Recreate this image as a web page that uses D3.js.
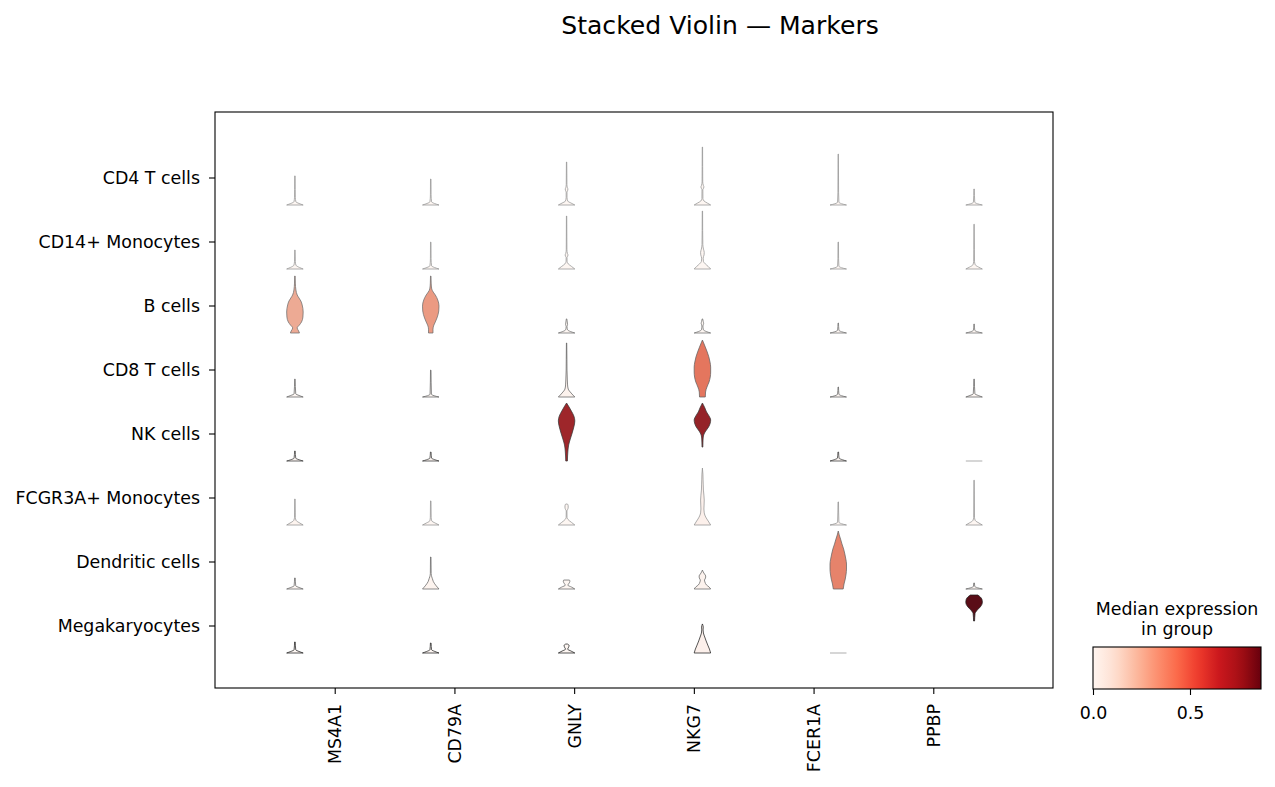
<!DOCTYPE html>
<html><head><meta charset="utf-8">
<script src="https://cdn.jsdelivr.net/npm/d3@7"></script>
<style>body{margin:0;background:#fff} text{font-family:"DejaVu Sans",sans-serif}</style>
</head><body><svg id="c" width="1275" height="787"></svg>
<script>
const title = "Stacked Violin — Markers";
const categories = ["CD4 T cells","CD14+ Monocytes","B cells","CD8 T cells","NK cells","FCGR3A+ Monocytes","Dendritic cells","Megakaryocytes"];
const genes = ["MS4A1","CD79A","GNLY","NKG7","FCER1A","PPBP"];
const colorbarTitle = ["Median expression","in group"];
const colorbarTicks = [0, 0.5];
// median expression per group (rows) and gene (columns)
const medians = [
  [0,0,0,0,0,0],
  [0,0,0,0,0,0],
  [0.28,0.33,0,0,0,0],
  [0,0,0.02,0.44,0,0],
  [0,0,0.72,0.75,0,0],
  [0.01,0,0,0.03,0,0],
  [0,0.01,0,0.02,0.40,0],
  [0,0,0,0.03,0,0.866]
];
// violin outlines: [expression, relative half-width] from lowest to highest value
const profilesCD4 = [
  [[0,1],[0.12,0.5],[0.25,0.12],[0.6,0.05],[1.2,0.04],[2.27,0.03]],
  [[0,1],[0.12,0.45],[0.25,0.1],[0.8,0.04],[2.03,0.03]],
  [[0,1],[0.15,0.55],[0.3,0.15],[0.6,0.05],[1.0,0.05],[1.15,0.14],[1.25,0.16],[1.35,0.1],[1.6,0.04],[2.5,0.03],[3.36,0.02]],
  [[0,1],[0.15,0.6],[0.31,0.2],[0.5,0.06],[1.2,0.05],[1.32,0.15],[1.42,0.18],[1.52,0.12],[1.8,0.04],[3,0.03],[4.53,0.02]],
  [[0,1],[0.1,0.4],[0.22,0.08],[1,0.04],[3.98,0.02]],
  [[0,1],[0.1,0.4],[0.22,0.08],[1.25,0.03]]
];
const profilesCD14 = [
  [[0,1],[0.12,0.55],[0.3,0.12],[0.6,0.05],[1.48,0.03]],
  [[0,1],[0.12,0.45],[0.25,0.1],[0.8,0.04],[2.1,0.03]],
  [[0,1],[0.2,0.6],[0.4,0.2],[0.6,0.06],[0.9,0.05],[1.0,0.14],[1.1,0.17],[1.2,0.11],[1.5,0.04],[2.5,0.03],[4.14,0.02]],
  [[0,1],[0.2,0.7],[0.4,0.35],[0.6,0.12],[0.85,0.09],[1.1,0.2],[1.3,0.22],[1.55,0.13],[1.9,0.05],[3,0.03],[4.53,0.02]],
  [[0,1],[0.1,0.4],[0.22,0.08],[0.8,0.04],[2.1,0.03]],
  [[0,1],[0.15,0.55],[0.32,0.15],[0.6,0.05],[1.5,0.04],[3.5,0.02]]
];
const profilesB = [
  [[0,0.55],[0.16,0.45],[0.39,0.27],[0.63,0.55],[0.86,0.8],[1.25,0.97],[1.64,1.0],[2.19,0.88],[2.5,0.72],[2.73,0.5],[2.97,0.28],[3.36,0.12],[3.9,0.05],[4.45,0.03]],
  [[0,0.27],[0.3,0.27],[0.62,0.38],[0.86,0.55],[1.17,0.75],[1.72,0.97],[2.1,1.0],[2.58,0.85],[2.97,0.55],[3.2,0.3],[3.44,0.12],[3.9,0.05],[4.45,0.03]],
  [[0,1],[0.12,0.45],[0.25,0.12],[0.5,0.05],[0.65,0.12],[0.78,0.1],[1.1,0.03]],
  [[0,1],[0.12,0.45],[0.25,0.12],[0.55,0.06],[0.75,0.15],[0.9,0.1],[1.1,0.03]],
  [[0,1],[0.1,0.4],[0.22,0.08],[0.78,0.03]],
  [[0,1],[0.1,0.4],[0.22,0.08],[0.7,0.03]]
];
const profilesCD8 = [
  [[0,1],[0.12,0.5],[0.25,0.1],[1.4,0.03]],
  [[0,1],[0.1,0.4],[0.22,0.08],[2.1,0.03]],
  [[0,1],[0.31,0.55],[0.62,0.2],[0.94,0.12],[1.33,0.09],[1.72,0.07],[2.1,0.05],[2.9,0.04],[4.22,0.02]],
  [[0,0.35],[0.39,0.38],[0.78,0.55],[1.17,0.8],[1.56,0.95],[1.95,1.0],[2.34,1.0],[2.73,0.92],[3.13,0.78],[3.52,0.58],[3.9,0.35],[4.22,0.15],[4.45,0]],
  [[0,1],[0.1,0.4],[0.22,0.08],[0.78,0.03]],
  [[0,1],[0.12,0.5],[0.25,0.1],[1.4,0.03]]
];
const profilesNK = [
  [[0,1],[0.1,0.5],[0.22,0.1],[0.78,0.04]],
  [[0,1],[0.1,0.5],[0.22,0.1],[0.7,0.04]],
  [[0,0.1],[0.39,0.12],[0.78,0.16],[1.25,0.25],[1.72,0.45],[2.19,0.68],[2.66,0.88],[3.13,1.0],[3.52,0.88],[3.9,0.58],[4.22,0.3],[4.53,0]],
  [[1.09,0.05],[1.41,0.06],[1.72,0.08],[2.03,0.15],[2.34,0.4],[2.66,0.75],[2.97,0.95],[3.2,1.0],[3.52,0.8],[3.83,0.5],[4.14,0.3],[4.38,0.12],[4.53,0]],
  [[0,1],[0.1,0.5],[0.22,0.1],[0.7,0.04]],
  [[0,1]]
];
const profilesFCGR3A = [
  [[0,1],[0.15,0.6],[0.35,0.15],[0.6,0.05],[2.03,0.03]],
  [[0,1],[0.15,0.55],[0.32,0.12],[0.6,0.05],[1.88,0.03]],
  [[0,1],[0.2,0.6],[0.45,0.15],[0.6,0.05],[1.1,0.04],[1.2,0.12],[1.4,0.2],[1.55,0.18],[1.64,0.1]],
  [[0,1],[0.31,0.7],[0.62,0.4],[0.94,0.22],[1.25,0.18],[1.56,0.2],[1.95,0.22],[2.34,0.18],[2.73,0.12],[3.13,0.1],[3.52,0.08],[3.98,0.06],[4.45,0]],
  [[0,1],[0.1,0.4],[0.22,0.08],[1.8,0.03]],
  [[0,1],[0.15,0.6],[0.35,0.15],[0.6,0.05],[3.5,0.02]]
];
const profilesDC = [
  [[0,1],[0.12,0.5],[0.25,0.1],[0.86,0.04]],
  [[0,1],[0.3,0.6],[0.6,0.3],[0.8,0.2],[0.95,0.12],[1.2,0.05],[2.5,0.03]],
  [[0,1],[0.15,0.6],[0.3,0.15],[0.45,0.3],[0.6,0.4],[0.7,0.35]],
  [[0,1],[0.16,0.8],[0.31,0.5],[0.55,0.3],[0.7,0.25],[0.86,0.38],[1.02,0.4],[1.17,0.25],[1.33,0.1],[1.48,0]],
  [[0,0.6],[0.39,0.7],[0.78,0.85],[1.17,0.95],[1.56,1.0],[1.95,1.0],[2.34,0.92],[2.73,0.8],[3.13,0.65],[3.52,0.45],[3.9,0.28],[4.22,0.12],[4.53,0]],
  [[0,1],[0.1,0.4],[0.2,0.08],[0.47,0.04]]
];
const profilesMega = [
  [[0,1],[0.12,0.5],[0.25,0.1],[0.86,0.04]],
  [[0,1],[0.12,0.5],[0.25,0.1],[0.78,0.04]],
  [[0,1],[0.15,0.55],[0.3,0.12],[0.45,0.25],[0.6,0.3],[0.7,0.1]],
  [[0,1],[0.31,0.85],[0.62,0.65],[0.94,0.45],[1.25,0.28],[1.56,0.12],[1.8,0.08],[2.03,0.1],[2.27,0]],
  [[0,1]],
  [[2.5,0.06],[2.8,0.08],[3.1,0.12],[3.2,0.2],[3.4,0.45],[3.6,0.75],[3.8,0.95],[3.98,1.0],[4.2,0.95],[4.38,0.75],[4.53,0.45]]
];
const profiles = [profilesCD4, profilesCD14, profilesB, profilesCD8, profilesNK, profilesFCGR3A, profilesDC, profilesMega];
const redsStops = ["#fff5f0","#fee0d2","#fcbba1","#fc9272","#fb6a4a","#ef3b2c","#cb181d","#a50f15","#67000d"];

const svg = d3.select("#c");
const frame = {l:215, r:1053, t:112, b:688};
const fs = 17.4;

const rowBand = d3.scaleBand().domain(categories).range([146, 658]);
const valueScale = d3.scaleLinear().domain([0, 5]).range([0, 64]);
const violinX = d3.scaleBand().domain(genes).range([227, 1042]);
const tickX = d3.scaleLinear().domain([0, genes.length + 1]).range([frame.l, frame.r]);
const halfW = 8.25;
const vmax = d3.max(medians.flat());
const reds = d3.scaleLinear().domain(redsStops.map((_, i) => i / (redsStops.length - 1) * vmax))
  .range(redsStops).interpolate(d3.interpolateRgb).clamp(true);
function desat(c, p) { const h = d3.hsl(c); h.s *= p; return h.formatHex(); }

// title
svg.append("text").attr("x", 720).attr("y", 34).attr("text-anchor", "middle")
  .attr("font-size", 25.1).attr("fill", "#000").text(title);

// violins
const gV = svg.append("g");
categories.forEach((cat, r) => {
  const base = rowBand(cat) + rowBand.bandwidth() - 5;
  const colors = genes.map((g, c) => desat(reds(medians[r][c]), 0.75));
  const lum = d3.min(colors, c => d3.hsl(c).l) * 0.6;
  const gray = d3.rgb(lum * 255, lum * 255, lum * 255).formatHex();
  genes.forEach((g, c) => {
    const pts = profiles[r][c];
    const cx = violinX(g) + violinX.bandwidth() / 2;
    if (pts.length === 1) {
      const y = base - valueScale(pts[0][0]);
      gV.append("line").attr("x1", cx - halfW).attr("x2", cx + halfW).attr("y1", y).attr("y2", y)
        .attr("stroke", "#cccccc").attr("stroke-width", 1.6);
    } else {
      const area = d3.area()
        .y(d => base - valueScale(d[0]))
        .x0(d => cx - halfW * d[1])
        .x1(d => cx + halfW * d[1])
        .curve(d3.curveMonotoneY);
      gV.append("path").attr("d", area(pts)).attr("fill", colors[c])
        .attr("stroke", gray).attr("stroke-width", 0.75).attr("stroke-linejoin", "round");
    }
  });
});

// frame
svg.append("rect").attr("x", frame.l).attr("y", frame.t).attr("width", frame.r - frame.l)
  .attr("height", frame.b - frame.t).attr("fill", "none").attr("stroke", "#000").attr("stroke-width", 1.1);

// y axis
const yAxis = svg.append("g").attr("transform", `translate(${frame.l},0)`)
  .call(d3.axisLeft(rowBand).tickSize(6).tickPadding(9).tickSizeOuter(0));
yAxis.select(".domain").remove();
yAxis.selectAll("text").attr("font-size", fs).attr("font-family", "DejaVu Sans").attr("fill", "#000");
yAxis.selectAll("line").attr("stroke", "#000").attr("stroke-width", 1.1);

// x axis
const xAxis = svg.append("g").attr("transform", `translate(0,${frame.b})`)
  .call(d3.axisBottom(tickX).tickValues(d3.range(1, genes.length + 1)).tickFormat(i => genes[i - 1]).tickSize(6).tickSizeOuter(0));
xAxis.select(".domain").remove();
xAxis.selectAll("line").attr("stroke", "#000").attr("stroke-width", 1.1);
xAxis.selectAll("text").attr("font-size", fs).attr("font-family", "DejaVu Sans").attr("fill", "#000")
  .attr("transform", "rotate(-90)").attr("x", -16).attr("y", 0).attr("dy", "0.35em").attr("text-anchor", "end");

// colorbar
const cb = {x0:1093, x1:1261, y0:647, y1:689};
const cbX = d3.scaleLinear().domain([0, vmax]).range([cb.x0, cb.x1]);
const grad = svg.append("defs").append("linearGradient").attr("id", "cbg");
d3.range(0, 1.0001, 0.05).forEach(t => {
  grad.append("stop").attr("offset", t).attr("stop-color", reds(t * vmax));
});
svg.append("rect").attr("x", cb.x0).attr("y", cb.y0).attr("width", cb.x1 - cb.x0).attr("height", cb.y1 - cb.y0)
  .attr("fill", "url(#cbg)").attr("stroke", "#000").attr("stroke-width", 1.1);
const cbAxis = svg.append("g").attr("transform", `translate(0,${cb.y1})`)
  .call(d3.axisBottom(cbX).tickValues(colorbarTicks).tickFormat(d3.format(".1f")).tickSize(6).tickPadding(12).tickSizeOuter(0));
cbAxis.select(".domain").remove();
cbAxis.selectAll("line").attr("stroke", "#000").attr("stroke-width", 1.1);
cbAxis.selectAll("text").attr("font-size", fs).attr("font-family", "DejaVu Sans").attr("fill", "#000");
colorbarTitle.forEach((t, i) => {
  svg.append("text").attr("x", (cb.x0 + cb.x1) / 2).attr("y", 615 + i * 20).attr("text-anchor", "middle")
    .attr("font-size", fs).attr("fill", "#000").text(t);
});
</script></body></html>
